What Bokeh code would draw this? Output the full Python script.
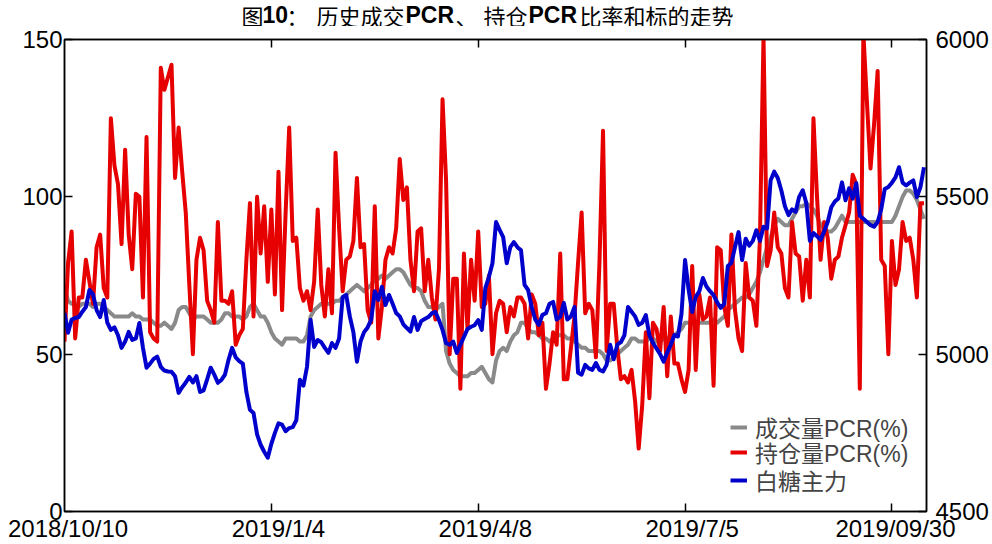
from bokeh.plotting import figure
from bokeh.layouts import column
from bokeh.models import Range1d, LinearAxis, FixedTicker, Legend, LegendItem, Label
from bokeh.embed import file_html
from bokeh.resources import INLINE

# ---------------- data ----------------
n_days = 242
day_idx = list(range(n_days))

volume_pcr = [
    71, 67, 66, 66, 65, 66, 66, 66, 65, 66,
    66, 65, 64, 63, 62, 62, 62, 62, 62, 63,
    62, 62, 61, 61, 61, 60, 59, 59, 60, 59,
    58, 60, 64, 65, 65, 63, 61, 62, 62, 62,
    61, 60, 60, 60, 61, 63, 63, 62, 62, 62,
    61, 62, 65, 66, 64, 62, 62, 60, 57, 55,
    54, 53, 55, 55, 55, 55, 54, 54, 56, 62,
    64, 65, 66, 66, 66, 66, 67, 67, 68, 69,
    70, 71, 72, 71, 70, 71, 72, 74, 74, 75,
    74, 75, 76, 77, 77, 76, 74, 72, 71, 71,
    70, 67, 65, 65, 64, 65, 66, 51, 47, 45,
    44, 43, 43, 43, 44, 44, 45, 46, 44, 42,
    41, 48, 51, 52, 51, 54, 56, 57, 60, 60,
    58, 57, 57, 56, 55, 55, 54, 55, 56, 56,
    56, 55, 55, 54, 53, 52, 52, 51, 51, 51,
    51, 50, 48, 48, 49, 50, 51, 52, 53, 55,
    55, 54, 54, 54, 55, 55, 54, 54, 55, 55,
    56, 56, 57, 58, 60, 60, 60, 60, 60, 60,
    60, 60, 61, 60, 61, 62, 64, 65, 66, 67,
    68, 68, 69, 71, 73, 76, 80, 84, 87, 91,
    93, 92, 91, 91, 93, 95, 97, 97, 98, 97,
    96, 94, 91, 90, 89, 89, 90, 92, 94, 92,
    92, 92, 92, 92, 92, 92, 92, 92, 92, 92,
    92, 92, 92, 94, 97, 100, 102, 102, 101, 99,
    96, 93,
]

oi_pcr = [
    54, 79, 89, 55, 68, 68, 80, 73, 66, 84,
    88, 71, 68, 125, 110, 104, 85, 115, 88, 77,
    101, 100, 68, 119, 57, 55, 54, 141, 134, 138,
    142, 106, 122, 108, 95, 72, 50, 80, 87, 83,
    67, 64, 60, 92, 67, 67, 66, 70, 53, 56,
    58, 80, 98, 62, 100, 82, 97, 73, 96, 69,
    108, 64, 95, 122, 86, 87, 71, 67, 70, 64,
    73, 96, 72, 62, 77, 63, 114, 90, 70, 80,
    81, 86, 106, 84, 85, 64, 60, 97, 55, 65,
    80, 84, 82, 90, 112, 99, 103, 80, 70, 89,
    90, 70, 80, 68, 61, 77, 131, 105, 50, 74,
    74, 39, 82, 58, 80, 67, 89, 65, 66, 75,
    50, 63, 67, 66, 57, 65, 62, 68, 68, 66,
    55, 69, 66, 56, 60, 39, 47, 57, 53, 82,
    42, 42, 52, 62, 79, 95, 63, 66, 64, 49,
    79, 121, 51, 66, 66, 52, 42, 43, 41, 45,
    35, 20, 34, 57, 36, 60, 58, 51, 65, 43,
    62, 47, 47, 42, 38, 45, 78, 45, 69, 61,
    62, 68, 40, 84, 83, 65, 59, 88, 64, 55,
    51, 79, 68, 67, 59, 87, 151, 78, 83, 95,
    84, 82, 71, 68, 92, 82, 81, 67, 80, 68,
    125, 100, 80, 92, 87, 74, 80, 81, 87, 91,
    95, 107, 104, 39, 152, 130, 109, 123, 140, 80,
    78, 50, 86, 72, 77, 92, 86, 87, 80, 68,
    98, 98,
]

sugar_main = [
    5131, 5068, 5110, 5115, 5118, 5135, 5150, 5204, 5190, 5140,
    5118, 5172, 5100, 5077, 5085, 5060, 5020, 5040, 5071, 5045,
    5050, 5099, 5020, 4957, 4970, 4985, 4992, 4960, 4948, 4945,
    4944, 4930, 4877, 4895, 4910, 4928, 4910, 4930, 4880, 4885,
    4920, 4957, 4935, 4909, 4918, 4935, 4982, 5020, 4990, 4978,
    4970, 4880, 4823, 4813, 4745, 4712, 4690, 4671, 4715, 4750,
    4780, 4776, 4755, 4765, 4768, 4790, 4919, 4900, 4960, 5109,
    5023, 5045, 5038, 5020, 5004, 5035, 5020, 5050, 5182, 5188,
    5120, 5070, 4976, 5040, 5070, 5085, 5110, 5200, 5172, 5214,
    5156, 5188, 5160, 5131, 5120, 5095, 5083, 5072, 5118, 5077,
    5105, 5112, 5118, 5130, 5134, 5108, 5077, 5035, 5030, 5040,
    5004, 5030, 5055, 5080, 5087, 5092, 5108, 5077, 5210, 5245,
    5289, 5420, 5395, 5372, 5289, 5340, 5356, 5340, 5330, 5220,
    5204, 5150, 5110, 5093, 5125, 5130, 5160, 5166, 5110, 5119,
    5163, 5110, 5120, 5150, 4941, 4935, 4966, 4955, 4950, 4972,
    4950, 4945, 4966, 5030, 4984, 5030, 5038, 5060, 5150, 5135,
    5120, 5093, 5100, 5124, 5060, 5036, 5018, 5000, 4976, 5005,
    5030, 5061, 5056, 5128, 5299, 5205, 5134, 5182, 5200, 5242,
    5215, 5200, 5188, 5165, 5147, 5160, 5280, 5290, 5340, 5388,
    5299, 5367, 5345, 5360, 5394, 5360, 5405, 5400, 5553, 5580,
    5560, 5520, 5470, 5442, 5460, 5452, 5500, 5521, 5480, 5360,
    5385, 5375, 5363, 5390, 5420, 5467, 5485, 5495, 5546, 5489,
    5527, 5494, 5543, 5440, 5430, 5420, 5410, 5405, 5420, 5460,
    5525, 5531, 5545, 5562, 5594, 5545, 5536, 5545, 5552, 5499,
    5531, 5594,
]

date_labels = ["2018/10/10", "2019/1/4", "2019/4/8", "2019/7/5", "2019/09/30"]
date_label_idx = [1, 60, 118, 176, 233]
date_tick_idx = [58, 116, 174, 232]
left_ticks = [0, 50, 100, 150]
right_ticks = [4500, 5000, 5500, 6000]
series_names = ["成交量PCR(%)", "持仓量PCR(%)", "白糖主力"]
series_colors = ["#8a8a8a", "#e60000", "#0000cc"]

LAT = "Liberation Sans"
MIX = "Liberation Sans, Noto Sans CJK SC"
CJK = "Noto Sans CJK SC"

# ---------------- title strip (mixed weight title) ----------------
TITLE_H = 26
t = figure(width=992, height=TITLE_H, output_backend="svg", toolbar_location=None,
           x_range=Range1d(64, 926), y_range=Range1d(0, TITLE_H),
           x_axis_type=None, y_axis_type=None,
           min_border_left=64, min_border_right=66, min_border_top=0, min_border_bottom=0,
           background_fill_color="white", border_fill_color="white")
t.xgrid.visible = False
t.ygrid.visible = False
t.outline_line_color = None

title_parts = [("图", 241, "normal"), ("10", 262, "bold"), ("：", 286, "normal"),
               ("历史成交", 316, "normal"), ("PCR", 405, "bold"), ("、", 455, "normal"),
               ("持仓", 483, "normal"), ("PCR", 528, "bold"), ("比率和标的走势", 579, "normal")]
for txt, px, wt in title_parts:
    t.add_layout(Label(x=px, y=TITLE_H - 14, text=txt,
                       text_font=(LAT if wt == "bold" else CJK), text_font_style=wt,
                       text_font_size=("23px" if wt == "bold" else "22px"),
                       text_baseline="middle", text_align="left", text_color="black"))

# ---------------- main chart ----------------
p = figure(width=992, height=544 - TITLE_H, output_backend="svg", toolbar_location=None,
           x_range=Range1d(0, 241.7), y_range=Range1d(0, 150),
           min_border_left=64, min_border_right=66, min_border_top=39 - TITLE_H,
           min_border_bottom=32,
           background_fill_color="white", border_fill_color="white")
p.extra_y_ranges = {"price": Range1d(4500, 6000)}
p.xgrid.visible = False
p.ygrid.visible = False
p.outline_line_color = "black"
p.outline_line_width = 1.5

def style_axis(ax, standoff=2, show_labels=True):
    ax.major_tick_in = 8
    ax.major_tick_out = 0
    ax.minor_tick_in = 0
    ax.minor_tick_out = 0
    ax.axis_line_color = "black"
    ax.axis_line_width = 1.5
    ax.major_tick_line_color = "black"
    ax.major_tick_line_width = 1.5
    ax.major_label_text_font = LAT
    ax.major_label_standoff = standoff
    if show_labels:
        ax.major_label_text_font_size = "24px"
        ax.major_label_text_color = "black"
    else:
        ax.major_label_text_font_size = "1px"
        ax.major_label_text_color = None

# left axis
ly = p.yaxis[0]
ly.ticker = FixedTicker(ticks=left_ticks)
style_axis(ly, standoff=2)

# right axis
ry = LinearAxis(y_range_name="price", ticker=FixedTicker(ticks=right_ticks))
style_axis(ry, standoff=9)
p.add_layout(ry, "right")

# bottom axis: tick marks only
bx = p.xaxis[0]
bx.ticker = FixedTicker(ticks=date_tick_idx)
style_axis(bx, standoff=0, show_labels=False)

# bottom axis: date labels
bl = LinearAxis(ticker=FixedTicker(ticks=date_label_idx),
                major_label_overrides={i: s for i, s in zip(date_label_idx, date_labels)})
style_axis(bl, standoff=3)
bl.major_tick_in = 0
bl.axis_line_color = None
p.add_layout(bl, "below")

# top axis: tick marks only
tx = LinearAxis(ticker=FixedTicker(ticks=date_tick_idx))
style_axis(tx, standoff=0, show_labels=False)
p.add_layout(tx, "above")

# ---------------- series ----------------
r_vol = p.line(day_idx, volume_pcr, line_color=series_colors[0], line_width=4, line_join="round")
r_oi = p.line(day_idx, oi_pcr, line_color=series_colors[1], line_width=4, line_join="round")
r_px = p.line(day_idx, sugar_main, line_color=series_colors[2], line_width=4, line_join="round",
              y_range_name="price")

# one legend per row, so each row sits where the reference puts it
legend_rows = [(series_names[0], r_vol, 67), (series_names[1], r_oi, 42), (series_names[2], r_px, 14)]
for name, rend, ypos in legend_rows:
    lg = Legend(items=[LegendItem(label=name, renderers=[rend])],
                location=(666, ypos), padding=0, margin=0, spacing=0,
                glyph_width=17, glyph_height=20, label_height=20, label_standoff=8,
                label_text_font=MIX, label_text_font_size="23px",
                border_line_color=None, background_fill_alpha=0)
    p.add_layout(lg, "center")

layout = column(t, p, spacing=0)
open("out.html", "w").write(file_html(layout, INLINE))
